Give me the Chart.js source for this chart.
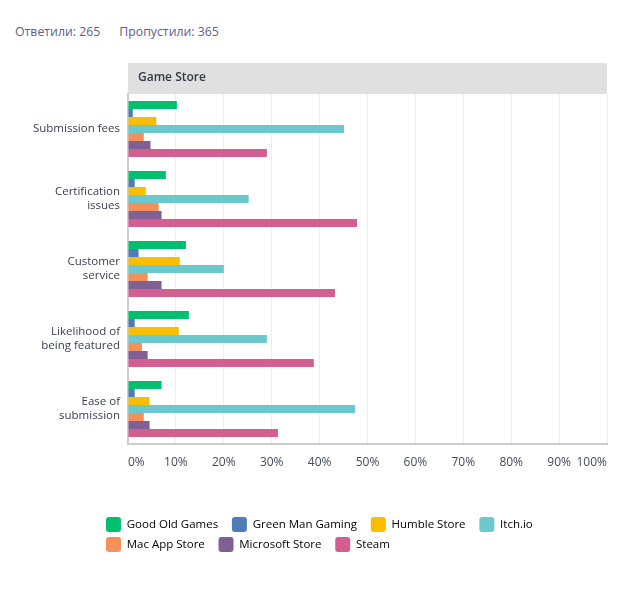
<!DOCTYPE html>
<html>
<head>
<meta charset="utf-8">
<script src="https://cdn.jsdelivr.net/npm/chart.js@4"></script>
<style>
  html, body { margin: 0; padding: 0; background: #fff; }
  #wrap { position: relative; width: 640px; height: 600px; }
  #stats { position: absolute; left: 15px; top: 23px; font: 12.3px "Open Sans", sans-serif; color: #5b6088; white-space: nowrap; }
  #stats span + span { margin-left: 19px; }
  canvas { position: absolute; left: 0; top: 0; }
</style>
</head>
<body>
<div id="wrap">
  <div id="stats"><span>Ответили: 265</span><span>Пропустили: 365</span></div>
  <canvas id="c" width="640" height="600"></canvas>
</div>
<script>
const categories = [
  'Submission fees',
  ['Certification', 'issues'],
  ['Customer', 'service'],
  ['Likelihood of', 'being featured'],
  ['Ease of', 'submission']
];
const headerTitle = 'Game Store';
const seriesNames = ['Good Old Games', 'Green Man Gaming', 'Humble Store', 'Itch.io', 'Mac App Store', 'Microsoft Store', 'Steam'];
const goodOldGames   = [10.2, 7.9, 12.1, 12.7, 7.0];
const greenManGaming = [1.0, 1.4, 2.2, 1.4, 1.4];
const humbleStore    = [5.9, 3.7, 10.8, 10.6, 4.5];
const itchIo         = [45.1, 25.2, 20.0, 29.0, 47.4];
const macAppStore    = [3.3, 6.4, 4.1, 2.9, 3.3];
const microsoftStore = [4.7, 7.0, 7.0, 4.1, 4.5];
const steam          = [29.0, 47.8, 43.2, 38.8, 31.3];
const xTicks = [0, 10, 20, 30, 40, 50, 60, 70, 80, 90, 100];

const seriesValues = [goodOldGames, greenManGaming, humbleStore, itchIo, macAppStore, microsoftStore, steam];
const colors = ['#00bf6f', '#507cb6', '#f9be00', '#6bc8cd', '#f5905a', '#7f5f94', '#d25f90'];
const FONT = '"Open Sans", sans-serif';

const headerBand = {
  id: 'headerBand',
  afterLayout(chart) {
    const lg = chart.legend;
    if (lg) { lg.left = 101; lg.right = 607; }
  },
  beforeDraw(chart) {
    const {ctx, chartArea} = chart;
    ctx.save();
    ctx.fillStyle = '#e0e0e0';
    ctx.fillRect(chartArea.left, chartArea.top - 31, chartArea.right - chartArea.left, 31);
    ctx.fillStyle = '#333844';
    ctx.font = '600 12px ' + FONT;
    ctx.textBaseline = 'middle';
    ctx.textAlign = 'left';
    ctx.fillText(headerTitle, chartArea.left + 10, chartArea.top - 16);
    ctx.restore();
  }
};

new Chart(document.getElementById('c'), {
  type: 'bar',
  data: {
    labels: categories,
    datasets: seriesNames.map((n, i) => ({
      label: n,
      data: seriesValues[i],
      backgroundColor: colors[i],
      borderWidth: 0,
      categoryPercentage: 0.8,
      barPercentage: 1.0
    }))
  },
  options: {
    indexAxis: 'y',
    responsive: false,
    animation: false,
    devicePixelRatio: 1,
    layout: { padding: { top: 94, left: 0, right: 33, bottom: 38 } },
    scales: {
      x: {
        min: 0, max: 100,
        afterBuildTicks(s) { s.ticks = xTicks.map(v => ({ value: v })); },
        afterFit(s) { s.height = 68; },
        grid: { color: '#efeee2', lineWidth: 1, drawTicks: false },
        border: { display: true, color: '#cccccc', width: 2 },
        ticks: {
          align: 'inner',
          padding: 11,
          color: '#444a5c',
          font: { family: FONT, size: 12 },
          callback: v => v + '%'
        }
      },
      y: {
        afterFit(s) { s.width = 128; },
        grid: { display: false, drawTicks: false },
        border: { display: true, color: '#cccccc', width: 2 },
        ticks: {
          padding: 8,
          color: '#3b4054',
          font: { family: FONT, size: 11.5, lineHeight: '14px' }
        }
      }
    },
    plugins: {
      legend: {
        position: 'bottom',
        align: 'start',
        labels: {
          boxWidth: 15,
          boxHeight: 15,
          padding: 5,
          color: '#3b4054',
          font: { family: FONT, size: 11.5 },
          generateLabels(chart) {
            return chart.data.datasets.map((ds, i) => ({
              text: ds.label + '\u2002 ',
              fillStyle: ds.backgroundColor,
              strokeStyle: ds.backgroundColor,
              lineWidth: 0,
              borderRadius: 3,
              hidden: false,
              datasetIndex: i
            }));
          }
        }
      },
      tooltip: { enabled: false }
    }
  },
  plugins: [headerBand]
});
</script>
</body>
</html>
